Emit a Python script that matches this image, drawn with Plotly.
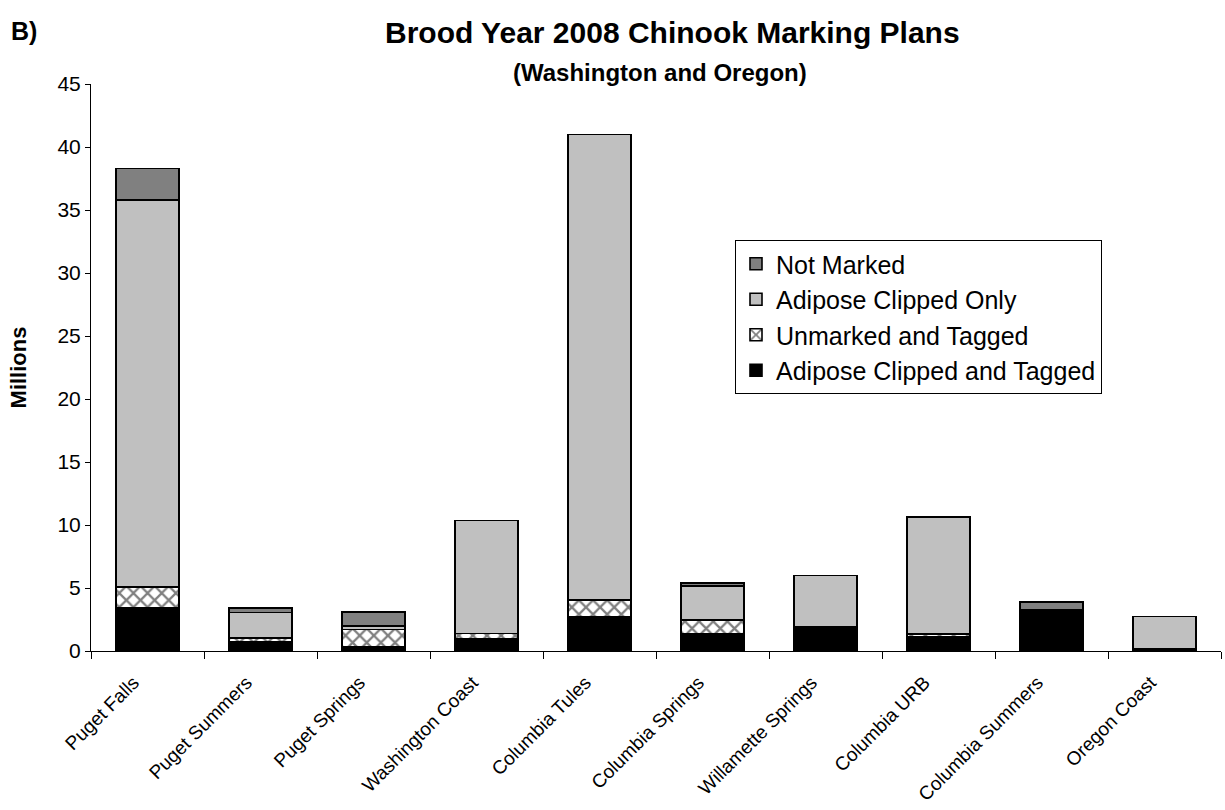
import plotly.graph_objects as go

# Stocks (millions of fish) by marking category
stocks = ["Puget Falls", "Puget Summers", "Puget Springs", "Washington Coast",
          "Columbia Tules", "Columbia Springs", "Willamette Springs",
          "Columbia URB", "Columbia Summers", "Oregon Coast"]

ad_clipped_tagged = [3.4, 0.7, 0.35, 1.0, 2.7, 1.4, 1.9, 1.15, 3.25, 0.15]
unmarked_tagged   = [1.7, 0.35, 1.35, 0.4, 1.35, 1.05, 0.0, 0.2, 0.0, 0.0]
ad_clipped_only   = [30.7, 2.0, 0.3, 8.95, 36.95, 2.7, 4.1, 9.3, 0.0, 2.6]
not_marked        = [2.5, 0.35, 1.1, 0.0, 0.0, 0.25, 0.0, 0.0, 0.65, 0.0]

y_ticks = list(range(0, 50, 5))

FONT = "Liberation Sans, Arial, sans-serif"
outline = dict(color="black", width=1.6)

fig = go.Figure()
fig.add_trace(go.Bar(x=stocks, y=ad_clipped_tagged, name="Adipose Clipped and Tagged",
                     legendgroup="a", marker=dict(color="black", line=outline)))
fig.add_trace(go.Bar(x=stocks, y=unmarked_tagged, name="Unmarked and Tagged",
                     legendgroup="b",
                     marker=dict(color="white", line=outline,
                                 pattern=dict(shape="x", fgcolor="black", bgcolor="white",
                                              size=10, solidity=0.4))))
fig.add_trace(go.Bar(x=stocks, y=ad_clipped_only, name="Adipose Clipped Only",
                     legendgroup="c", marker=dict(color="#c0c0c0", line=outline)))
fig.add_trace(go.Bar(x=stocks, y=not_marked, name="Not Marked",
                     legendgroup="d", marker=dict(color="#808080", line=outline)))

# plot area in pixels, used to place header texts
plot_l, plot_r, plot_t, plot_b = 91, 1221, 84, 651


def px_x(p):
    return (p - plot_l) / (plot_r - plot_l)


def px_y(p):
    return (plot_b - p) / (plot_b - plot_t)


fig.update_layout(
    barmode="stack",
    bargap=0.44,
    width=1225, height=810,
    margin=dict(l=plot_l, r=1225 - plot_r, t=plot_t, b=810 - plot_b),
    paper_bgcolor="white", plot_bgcolor="white",
    font=dict(family=FONT, color="black", size=18),
    showlegend=True,
    legend=dict(traceorder="reversed", x=px_x(735), y=px_y(240),
                xanchor="left", yanchor="top",
                bordercolor="black", borderwidth=1, bgcolor="white",
                font=dict(size=25, family=FONT), tracegroupgap=12),
    annotations=[
        dict(text="<b>Brood Year 2008 Chinook Marking Plans</b>",
             x=px_x(672), y=px_y(32), xref="paper", yref="paper",
             xanchor="center", yanchor="middle", showarrow=False,
             font=dict(size=30, family=FONT)),
        dict(text="<b>B)</b>", x=px_x(24), y=px_y(31), xref="paper", yref="paper",
             xanchor="center", yanchor="middle", showarrow=False,
             font=dict(size=25, family=FONT)),
        dict(text="<b>(Washington and Oregon)</b>", x=px_x(660), y=px_y(73),
             xref="paper", yref="paper", xanchor="center", yanchor="middle",
             showarrow=False, font=dict(size=24, family=FONT)),
    ],
)

fig.update_xaxes(
    showline=True, linecolor="black", linewidth=1,
    ticks="outside", tickson="boundaries", ticklen=7, tickcolor="black",
    tickangle=-45, tickfont=dict(size=19, family=FONT),
    ticklabelstandoff=12, ticklabelshift=-14,
    showgrid=False,
)
fig.update_yaxes(
    range=[0, 45], tickvals=y_ticks, showline=True, linecolor="black", linewidth=1,
    ticks="outside", ticklen=5, tickcolor="black", showgrid=False, zeroline=False,
    tickfont=dict(size=21, family=FONT),
    title=dict(text="<b>Millions</b>", font=dict(size=22, family=FONT), standoff=24),
)

fig.write_html("out.html")
